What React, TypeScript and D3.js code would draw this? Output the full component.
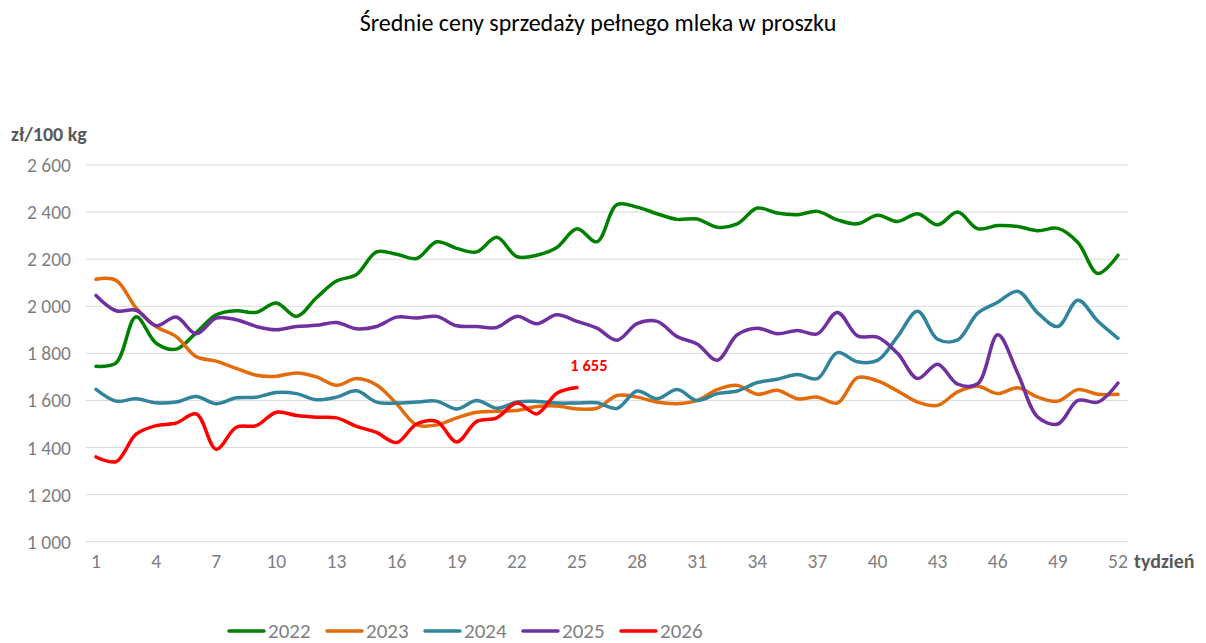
import React, { useEffect, useRef } from 'react';
import * as d3 from 'd3';

// tygodnie 1..52
const weeks: number[] = d3.range(1, 53);
const tickWeeks: number[] = [1, 4, 7, 10, 13, 16, 19, 22, 25, 28, 31, 34, 37, 40, 43, 46, 49, 52];
const yTicks: number[] = [1000, 1200, 1400, 1600, 1800, 2000, 2200, 2400, 2600];

const years: string[] = ['2022', '2023', '2024', '2025', '2026'];
const colors: string[] = ['#008000', '#E36C0A', '#31849B', '#7030A0', '#FF0000'];

const v2022: number[] = [1745, 1760, 1955, 1843, 1818, 1888, 1964, 1981, 1974, 2014, 1957, 2036, 2107, 2135,
  2231, 2221, 2203, 2274, 2246, 2231, 2293, 2211, 2217, 2250, 2329, 2274, 2432, 2421, 2393, 2369, 2371, 2336,
  2350, 2417, 2396, 2389, 2403, 2367, 2350, 2387, 2360, 2393, 2346, 2400, 2329, 2343, 2339, 2321, 2331, 2271,
  2139, 2217];
const v2023: number[] = [2115, 2110, 1993, 1914, 1871, 1786, 1767, 1736, 1707, 1703, 1717, 1700, 1664, 1693,
  1666, 1586, 1496, 1496, 1526, 1550, 1554, 1557, 1574, 1576, 1564, 1567, 1621, 1614, 1593, 1586, 1600, 1646,
  1664, 1626, 1643, 1607, 1614, 1589, 1697, 1683, 1640, 1593, 1579, 1636, 1660, 1629, 1654, 1614, 1597, 1646,
  1626, 1626];
const v2024: number[] = [1647, 1597, 1607, 1590, 1593, 1617, 1586, 1611, 1614, 1634, 1629, 1603, 1614, 1641,
  1593, 1589, 1593, 1597, 1564, 1600, 1567, 1593, 1596, 1589, 1589, 1590, 1566, 1640, 1607, 1646, 1600, 1629,
  1640, 1676, 1690, 1710, 1693, 1803, 1764, 1770, 1871, 1979, 1860, 1857, 1971, 2017, 2064, 1971, 1914, 2026,
  1936, 1864];
const v2025: number[] = [2046, 1981, 1983, 1917, 1954, 1883, 1950, 1943, 1914, 1900, 1914, 1919, 1931, 1904,
  1914, 1954, 1950, 1957, 1917, 1914, 1910, 1957, 1926, 1964, 1936, 1907, 1856, 1926, 1936, 1871, 1840, 1771,
  1879, 1907, 1883, 1897, 1883, 1974, 1874, 1869, 1800, 1693, 1754, 1669, 1671, 1879, 1714, 1529, 1500, 1600,
  1593, 1674];
const v2026: number[] = [1360, 1340, 1457, 1493, 1504, 1543, 1393, 1486, 1493, 1550, 1536, 1529, 1526, 1490,
  1464, 1421, 1500, 1511, 1424, 1511, 1526, 1589, 1543, 1631, 1655];

const series: number[][] = [v2022, v2023, v2024, v2025, v2026];

const FONT = "Carlito, Calibri, 'Open Sans', 'Noto Sans', sans-serif";

const App = () => {
  const ref = useRef<SVGSVGElement | null>(null);

  useEffect(() => {
    const svg = d3.select(ref.current);
    svg.selectAll('*').remove();

    const x = d3.scalePoint<number>().domain(weeks).range([86, 1128]).padding(0.5);
    const y = d3.scaleLinear().domain([1000, 2600]).range([541.7, 165]);

    // title
    svg.append('text')
      .attr('x', 598).attr('y', 31)
      .attr('text-anchor', 'middle')
      .style('font-family', FONT).style('font-size', '24px').attr('fill', '#000')
      .text('Średnie ceny sprzedaży pełnego mleka w proszku');

    // gridlines
    svg.append('g').selectAll('line').data(yTicks).enter().append('line')
      .attr('x1', 86).attr('x2', 1128)
      .attr('y1', d => y(d)).attr('y2', d => y(d))
      .attr('stroke', '#d9d9d9').attr('stroke-width', 1);

    // y tick labels
    svg.append('g').selectAll('text').data(yTicks).enter().append('text')
      .attr('x', 71).attr('y', d => y(d) + 7)
      .attr('text-anchor', 'end')
      .style('font-family', FONT).style('font-size', '19.5px').attr('fill', '#7f7f7f')
      .text(d => d3.format(',')(d).replace(',', ' '));

    svg.append('text')
      .attr('x', 11).attr('y', 141)
      .style('font-family', FONT).style('font-size', '20px').style('font-weight', 'bold')
      .attr('fill', '#595959')
      .text('zł/100 kg');

    // x tick labels
    svg.append('g').selectAll('text').data(tickWeeks).enter().append('text')
      .attr('x', d => x(d) as number).attr('y', 568)
      .attr('text-anchor', 'middle')
      .style('font-family', FONT).style('font-size', '19.5px').attr('fill', '#7f7f7f')
      .text(d => d);

    svg.append('text')
      .attr('x', 1134).attr('y', 568)
      .style('font-family', FONT).style('font-size', '20px').style('font-weight', 'bold')
      .attr('fill', '#595959')
      .text('tydzień');

    // lines
    const line = d3.line<number>()
      .x((_, i) => x(weeks[i]) as number)
      .y(d => y(d))
      .curve(d3.curveCatmullRom.alpha(0.5));

    series.forEach((vals, i) => {
      svg.append('path')
        .datum(vals)
        .attr('d', line)
        .attr('fill', 'none')
        .attr('stroke', colors[i])
        .attr('stroke-width', 3.5)
        .attr('stroke-linecap', 'round')
        .attr('stroke-linejoin', 'round');
    });

    // data label for last 2026 point
    const last = v2026.length - 1;
    svg.append('text')
      .attr('x', (x(weeks[last]) as number) + 12).attr('y', y(v2026[last]) - 16)
      .attr('text-anchor', 'middle')
      .style('font-family', FONT).style('font-size', '16.5px').style('font-weight', 'bold')
      .attr('fill', '#FF0000')
      .text('1 655');

    // legend
    const lg = svg.append('g');
    years.forEach((yr, i) => {
      const lx = 229 + i * 98;
      lg.append('line')
        .attr('x1', lx).attr('x2', lx + 35)
        .attr('y1', 631).attr('y2', 631)
        .attr('stroke', colors[i]).attr('stroke-width', 3.5).attr('stroke-linecap', 'round');
      lg.append('text')
        .attr('x', lx + 39).attr('y', 638)
        .style('font-family', FONT).style('font-size', '21px').attr('fill', '#7f7f7f')
        .text(yr);
    });
  }, []);

  return (
    <svg
      ref={ref}
      width={1206}
      height={643}
      style={{ position: 'absolute', left: 0, top: 0, background: 'white' }}
    />
  );
};

export default App;
